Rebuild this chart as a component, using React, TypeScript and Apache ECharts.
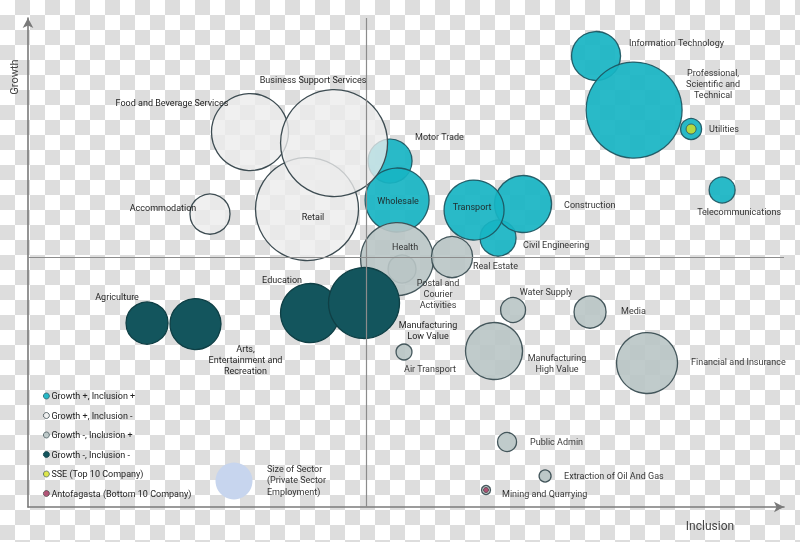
import React, { useEffect, useRef } from 'react';
import * as echarts from 'echarts';

// ---- Data (inclusion score, growth score, private sector employment) ----
const tealNames = ['Motor Trade', 'Wholesale', 'Information Technology', 'Professional, Scientific and Technical', 'Utilities', 'Telecommunications', 'Civil Engineering', 'Construction', 'Transport'];
const tealInclusion = [47.51, 48.43, 74.54, 79.53, 87.01, 91.08, 61.68, 64.96, 58.53];
const tealGrowth = [70.04, 62.15, 91.3, 80.36, 76.52, 64.17, 54.45, 61.34, 60.12];
const tealEmployment = [21500, 45500, 26700, 102400, 4900, 7500, 14400, 36100, 40000];

const lightNames = ['Food and Beverage Services', 'Accommodation', 'Retail', 'Business Support Services'];
const lightInclusion = [29.13, 23.88, 36.61, 40.16];
const lightGrowth = [75.91, 59.31, 60.32, 73.68];
const lightEmployment = [65900, 17800, 117900, 127200];

const grayNames = ['Postal and Courier Activities', 'Health', 'Real Estate', 'Water Supply', 'Media', 'Manufacturing High Value', 'Financial and Insurance', 'Air Transport', 'Public Admin', 'Extraction of Oil And Gas', 'Mining and Quarrying'];
const grayInclusion = [49.08, 48.43, 55.64, 63.65, 73.75, 61.15, 81.23, 49.34, 62.86, 67.85, 60.1];
const grayGrowth = [48.18, 50.2, 50.61, 39.88, 39.47, 31.58, 29.15, 31.38, 13.16, 6.28, 3.44];
const grayEmployment = [8700, 59200, 18700, 6900, 11400, 36100, 41300, 2800, 4000, 1600, 900];

const darkNames = ['Agriculture', 'Arts, Entertainment and Recreation', 'Education', 'Manufacturing Low Value'];
const darkInclusion = [15.62, 21.98, 37.01, 44.09];
const darkGrowth = [37.25, 37.04, 39.27, 41.3];
const darkEmployment = [19600, 28900, 38700, 56000];

const companyNames = ['SSE (Top 10 Company)', 'Antofagasta (Bottom 10 Company)'];
const companyInclusion = [87.01, 60.1];
const companyGrowth = [76.52, 3.44];

const crossInclusion = 44.36;
const crossGrowth = 50.61;

const seriesNames = ['Growth +, Inclusion +', 'Growth +, Inclusion -', 'Growth -, Inclusion +', 'Growth -, Inclusion -'];

// ---- Label layout (text, offset from bubble centre, alignment) ----
const labelLayout: Record<string, { text: string; dx: number; dy: number; align: string }> = {
  'Information Technology': { text: 'Information Technology', dx: 33, dy: -13, align: 'left' },
  'Professional, Scientific and Technical': { text: 'Professional,\nScientific and\nTechnical', dx: 79, dy: -26, align: 'center' },
  'Utilities': { text: 'Utilities', dx: 18, dy: 0, align: 'left' },
  'Telecommunications': { text: 'Telecommunications', dx: 17, dy: 22, align: 'center' },
  'Construction': { text: 'Construction', dx: 41, dy: 1, align: 'left' },
  'Transport': { text: 'Transport', dx: -2, dy: -3, align: 'center' },
  'Civil Engineering': { text: 'Civil Engineering', dx: 25, dy: 7, align: 'left' },
  'Wholesale': { text: 'Wholesale', dx: 1, dy: 1, align: 'center' },
  'Motor Trade': { text: 'Motor Trade', dx: 25, dy: -24, align: 'left' },
  'Food and Beverage Services': { text: 'Food and Beverage Services', dx: -78, dy: -29, align: 'center' },
  'Business Support Services': { text: 'Business Support Services', dx: -21, dy: -63, align: 'center' },
  'Accommodation': { text: 'Accommodation', dx: -47, dy: -6, align: 'center' },
  'Retail': { text: 'Retail', dx: 6, dy: 8, align: 'center' },
  'Health': { text: 'Health', dx: 8, dy: -12, align: 'center' },
  'Postal and Courier Activities': { text: 'Postal and\nCourier\nActivities', dx: 36, dy: 25, align: 'center' },
  'Real Estate': { text: 'Real Estate', dx: 21, dy: 9, align: 'left' },
  'Water Supply': { text: 'Water Supply', dx: 33, dy: -18, align: 'center' },
  'Media': { text: 'Media', dx: 31, dy: -1, align: 'left' },
  'Manufacturing High Value': { text: 'Manufacturing\nHigh Value', dx: 63, dy: 12, align: 'center' },
  'Financial and Insurance': { text: 'Financial and Insurance', dx: 44, dy: -1, align: 'left' },
  'Air Transport': { text: 'Air Transport', dx: 26, dy: 17, align: 'center' },
  'Public Admin': { text: 'Public Admin', dx: 23, dy: 0, align: 'left' },
  'Extraction of Oil And Gas': { text: 'Extraction of Oil And Gas', dx: 19, dy: 0, align: 'left' },
  'Mining and Quarrying': { text: 'Mining and Quarrying', dx: 16, dy: 4, align: 'left' },
  'Agriculture': { text: 'Agriculture', dx: -30, dy: -26, align: 'center' },
  'Arts, Entertainment and Recreation': { text: 'Arts,\nEntertainment and\nRecreation', dx: 50, dy: 36, align: 'center' },
  'Education': { text: 'Education', dx: -28, dy: -33, align: 'center' },
  'Manufacturing Low Value': { text: 'Manufacturing\nLow Value', dx: 64, dy: 27, align: 'center' },
};

const FONT = 'Roboto, "Open Sans", sans-serif';

function buildData(names: string[], xs: number[], ys: number[], emp: number[]) {
  return names.map((n, i) => {
    const l = labelLayout[n];
    return {
      name: n,
      value: [xs[i], ys[i], emp[i]],
      label: {
        show: true,
        position: 'inside',
        offset: [l.dx, l.dy],
        align: l.align,
        verticalAlign: 'middle',
        formatter: l.text,
        fontSize: 9,
        lineHeight: 11,
        color: '#1e1e1e',
        fontFamily: FONT,
      },
    };
  });
}

const sizeFn = (v: number[]) => Math.sqrt(v[2]) * 0.3;

export default function App() {
  const ref = useRef<HTMLDivElement>(null);

  useEffect(() => {
    if (!ref.current) return;
    const chart = echarts.init(ref.current, undefined, { renderer: 'svg' });
    const bubble = (name: string, data: any[], fill: string, border: string, opacity: number) => ({
      name,
      type: 'scatter',
      data,
      symbolSize: sizeFn,
      itemStyle: { color: fill, borderColor: border, borderWidth: 1.3, opacity },
      emphasis: { disabled: true },
    });

    chart.setOption({
      animation: false,
      backgroundColor: 'transparent',
      textStyle: { fontFamily: FONT },
      grid: { left: 28, right: 16, top: 18, bottom: 35 },
      xAxis: {
        type: 'value', min: 0, max: 99.2,
        axisLine: { show: true, onZero: false, symbol: ['none', 'arrow'], symbolSize: [8, 10], lineStyle: { color: '#7a7a7a', width: 1.6 } },
        axisTick: { show: false }, axisLabel: { show: false }, splitLine: { show: false },
      },
      yAxis: {
        type: 'value', min: 0, max: 99,
        axisLine: { show: true, onZero: false, symbol: ['none', 'arrow'], symbolSize: [8, 10], lineStyle: { color: '#7a7a7a', width: 1.6 } },
        axisTick: { show: false }, axisLabel: { show: false }, splitLine: { show: false },
      },
      legend: {
        orient: 'vertical', left: 38, top: 385,
        itemWidth: 6, itemHeight: 6, itemGap: 7.5, icon: 'circle',
        itemStyle: { borderWidth: 0.8 },
        textStyle: { fontSize: 9, color: '#222', fontFamily: FONT, lineHeight: 12, padding: [0, 0, 0, -3] },
        data: [...seriesNames, ...companyNames],
        selectedMode: false,
      },
      graphic: [
        { type: 'text', x: 14, y: 77, rotation: Math.PI / 2, style: { text: 'Growth', fontSize: 11, fill: '#444', fontFamily: FONT, align: 'center', verticalAlign: 'middle' } },
        { type: 'text', x: 710, y: 526, style: { text: 'Inclusion', fontSize: 12, fill: '#444', fontFamily: FONT, align: 'center', verticalAlign: 'middle' } },
        { type: 'circle', shape: { cx: 234, cy: 481, r: 18.5 }, style: { fill: '#c7d5ee' } },
        { type: 'text', x: 267, y: 480, style: { text: 'Size of Sector\n(Private Sector\nEmployment)', fontSize: 9, lineHeight: 11.5, fill: '#333', fontFamily: FONT, align: 'left', verticalAlign: 'middle' } },
      ],
      series: [
        {
          name: 'cross', type: 'scatter', data: [], silent: true,
          markLine: {
            silent: true, symbol: 'none', label: { show: false },
            lineStyle: { color: '#8c8c8c', width: 1.2, type: 'solid' },
            data: [{ xAxis: crossInclusion }, { yAxis: crossGrowth }],
          },
        },
        bubble(seriesNames[0], buildData(tealNames, tealInclusion, tealGrowth, tealEmployment), '#17b4c3', '#1d5560', 0.92),
        bubble(seriesNames[1], buildData(lightNames, lightInclusion, lightGrowth, lightEmployment), 'rgba(236,236,236,0.78)', '#3d4c52', 1),
        bubble(seriesNames[2], buildData(grayNames, grayInclusion, grayGrowth, grayEmployment), '#b9c5c5', '#34484e', 0.9),
        bubble(seriesNames[3], buildData(darkNames, darkInclusion, darkGrowth, darkEmployment), '#13555d', '#0f3f45', 1),
        {
          name: companyNames[0], type: 'scatter', symbolSize: 10,
          data: [[companyInclusion[0], companyGrowth[0]]],
          itemStyle: { color: '#d6e021', borderColor: '#2c4a52', borderWidth: 1 },
          emphasis: { disabled: true },
        },
        {
          name: companyNames[1], type: 'scatter', symbolSize: 5,
          data: [[companyInclusion[1], companyGrowth[1]]],
          itemStyle: { color: '#a8325e', borderColor: '#333', borderWidth: 0.8 },
          emphasis: { disabled: true },
        },
      ],
    });
    return () => chart.dispose();
  }, []);

  return (
    <div
      style={{
        position: 'fixed', left: 0, top: 0, width: 800, height: 542,
        background: 'repeating-conic-gradient(#dddddd 0 25%, #ffffff 0 50%) 0 0 / 30px 30px',
      }}
    >
      <div ref={ref} style={{ width: 800, height: 542 }} />
    </div>
  );
}
